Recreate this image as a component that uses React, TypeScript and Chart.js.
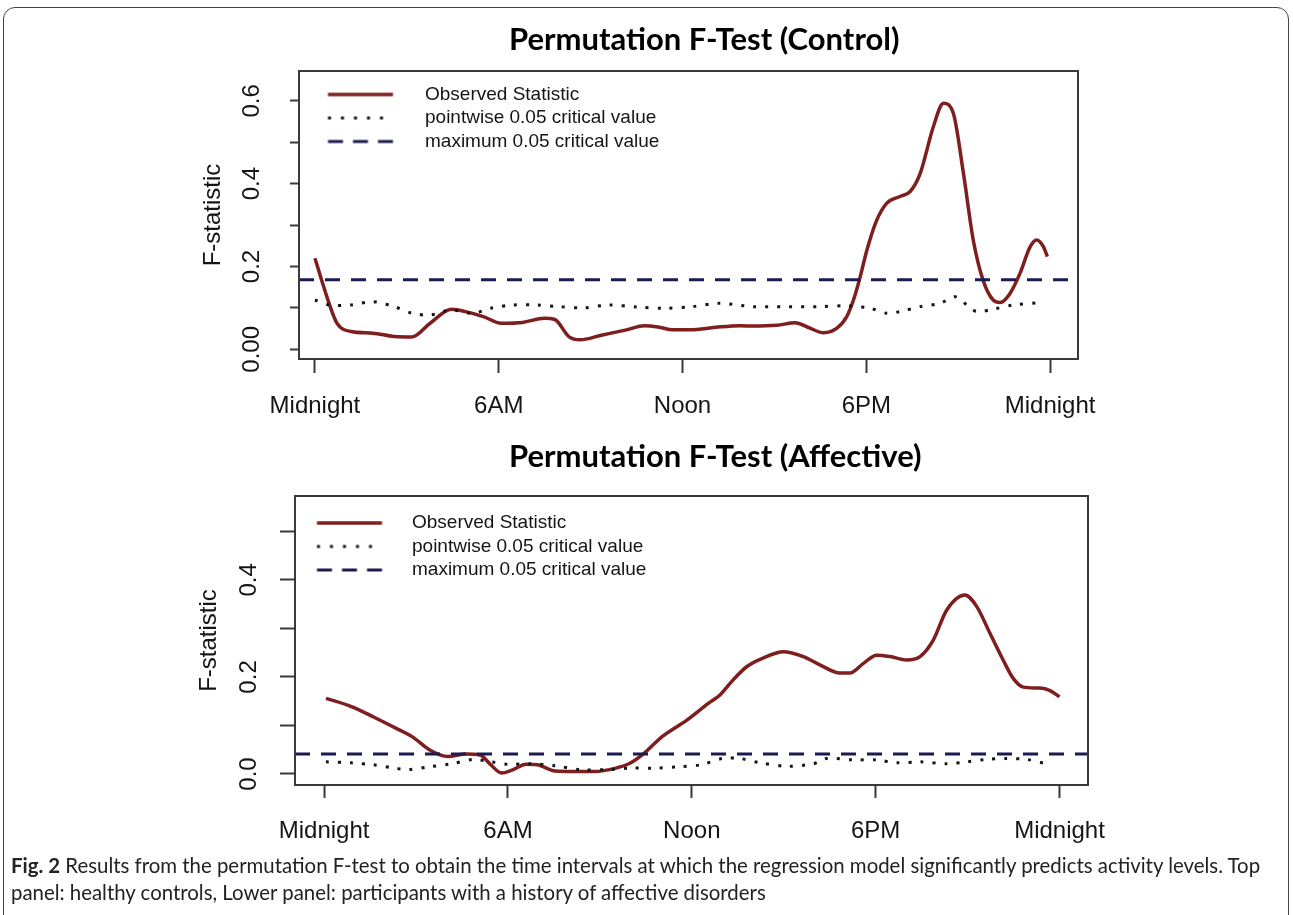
import React, { useEffect, useRef } from "react";
import { Chart, registerables } from "chart.js";

Chart.register(...registerables);

// ---------- shared axis text ----------
const hourTicks = [0, 6, 12, 18, 24];
const hourTickLabels = ["Midnight", "6AM", "Noon", "6PM", "Midnight"];
const legendLabels = [
  "Observed Statistic",
  "pointwise 0.05 critical value",
  "maximum 0.05 critical value",
];
const yAxisTitle = "F-statistic";

// ---------- top panel: healthy controls ----------
const controlTitle = "Permutation F-Test (Control)";
const controlYTicks = [0, 0.1, 0.2, 0.3, 0.4, 0.5, 0.6];
const controlYTickLabels = ["0.00", "", "0.2", "", "0.4", "", "0.6"];
const controlObservedHours = [
  0, 0.22, 0.42, 0.72, 1.18, 1.89, 2.59, 3.17, 3.76, 4.46, 4.92, 5.5, 6.08,
  6.78, 7.48, 7.83, 8.3, 8.65, 9.35, 10.17, 10.75, 11.2, 11.68, 12.26, 13.08,
  13.88, 14.31, 15.08, 15.67, 16.16, 16.6, 17.04, 17.36, 17.58, 17.8, 18.02,
  18.34, 18.67, 19.1, 19.43, 19.76, 20.19, 20.52, 20.84, 21.17, 21.49, 21.81,
  22.14, 22.37, 22.69, 23.02, 23.35, 23.56, 23.78, 23.91,
];
const controlObservedValues = [
  0.22, 0.167, 0.12, 0.063, 0.043, 0.039, 0.031, 0.03, 0.063, 0.097, 0.091,
  0.079, 0.063, 0.065, 0.075, 0.072, 0.03, 0.023, 0.034, 0.047, 0.057, 0.054,
  0.047, 0.047, 0.053, 0.057, 0.056, 0.058, 0.064, 0.051, 0.04, 0.051, 0.079,
  0.119, 0.175, 0.24, 0.312, 0.353, 0.369, 0.381, 0.425, 0.538, 0.594, 0.57,
  0.425, 0.264, 0.167, 0.119, 0.113, 0.135, 0.184, 0.248, 0.264, 0.248, 0.224,
];
const controlPointwiseHours = [
  0, 0.49, 1.18, 1.89, 2.59, 3.17, 3.76, 4.46, 5.16, 5.74, 6.44, 7.25, 7.95,
  8.77, 9.58, 10.52, 11.45, 12.3, 13.2, 14.31, 15.4, 16.49, 17.36, 18.13,
  18.67, 19.1, 19.76, 20.41, 20.9, 21.28, 21.6, 22.14, 22.8, 23.67,
];
const controlPointwiseValues = [
  0.119, 0.107, 0.107, 0.115, 0.103, 0.087, 0.083, 0.095, 0.087, 0.099, 0.107,
  0.107, 0.103, 0.1, 0.107, 0.102, 0.099, 0.103, 0.111, 0.103, 0.103, 0.103,
  0.105, 0.099, 0.087, 0.091, 0.103, 0.111, 0.127, 0.107, 0.091, 0.097, 0.107,
  0.113,
];
const controlMaximumCritical = [0.168];

// ---------- lower panel: affective disorders ----------
const affectiveTitle = "Permutation F-Test (Affective)";
const affectiveYTicks = [0, 0.1, 0.2, 0.3, 0.4, 0.5];
const affectiveYTickLabels = ["0.0", "", "0.2", "", "0.4", ""];
const affectiveObservedHours = [
  0.06, 0.89, 1.6, 2.29, 2.87, 3.46, 4.04, 4.62, 5.09, 5.44, 5.79, 6.13, 6.6,
  6.95, 7.54, 8.12, 8.82, 9.52, 9.98, 10.45, 11.03, 11.84, 12.55, 12.92, 13.35,
  13.79, 14.33, 14.99, 15.64, 16.18, 16.84, 17.16, 17.6, 18.03, 18.47, 19.01,
  19.45, 19.88, 20.32, 20.91, 21.3, 21.73, 22.16, 22.49, 22.82, 23.36, 23.69,
  24.0,
];
const affectiveObservedValues = [
  0.156, 0.139, 0.118, 0.096, 0.077, 0.049, 0.036, 0.041, 0.039, 0.019, 0.002,
  0.008, 0.02, 0.019, 0.006, 0.005, 0.005, 0.012, 0.022, 0.043, 0.077, 0.111,
  0.146, 0.163, 0.194, 0.221, 0.239, 0.252, 0.242, 0.225, 0.208, 0.208, 0.228,
  0.245, 0.242, 0.235, 0.242, 0.276, 0.338, 0.369, 0.345, 0.29, 0.235, 0.197,
  0.179, 0.177, 0.172, 0.159,
];
const affectivePointwiseHours = [
  0.06, 0.89, 1.6, 2.29, 2.76, 3.46, 4.16, 4.86, 5.44, 6.0, 6.7, 7.54, 8.35,
  9.28, 9.98, 10.8, 11.6, 12.3, 13.0, 13.57, 14.22, 15.1, 15.97, 16.4, 17.27,
  18.03, 18.69, 19.45, 20.32, 20.97, 21.62, 22.27, 22.93, 23.58,
];
const affectivePointwiseValues = [
  0.025, 0.023, 0.019, 0.012, 0.009, 0.015, 0.021, 0.03, 0.025, 0.02, 0.021,
  0.017, 0.009, 0.009, 0.012, 0.012, 0.015, 0.019, 0.032, 0.032, 0.023, 0.016,
  0.021, 0.032, 0.029, 0.029, 0.023, 0.025, 0.021, 0.025, 0.03, 0.032, 0.03,
  0.021,
];
const affectiveMaximumCritical = [0.041];

// ---------- styling ----------
const AXIS_FONT = "'Liberation Sans', Arial, Helvetica, sans-serif";
const TITLE_FONT = "Lato, 'Open Sans', sans-serif";
const RED = "#7e1e1e";
const NAVY = "#1b1b52";
const INK = "#151515";
const FRAME = "#3a3a3a";

type PanelLayout = {
  top: number;
  height: number;
  plotLeft: number;
  plotRight: number;
  plotTop: number;
  plotBottom: number;
  xMin: number;
  xMax: number;
  yMin: number;
  yMax: number;
  xTickLen: number;
  yTickLen: number;
  xLabelPad: number;
  yLabelPad: number;
  titleX: number;
  titleBaseline: number;
  legendLineStart: number;
  legendTextX: number;
  legendFirstRow: number;
};

type PanelData = {
  title: string;
  yTicks: number[];
  yTickLabels: string[];
  obsHours: number[];
  obsValues: number[];
  pwHours: number[];
  pwValues: number[];
  maxCrit: number[];
};

const Y_AXIS_W = 100;
const X_AXIS_H = 60;
const LEGEND_FONT = 19;
const LEGEND_ROW_GAP = 4.5;
const LEGEND_PAD = 4.5;
const LEGEND_LINE = 65;

function legendImage(kind: "solid" | "dot" | "dash", width: number, offset: number) {
  const c = document.createElement("canvas");
  c.width = Math.max(1, Math.round(width));
  c.height = 8;
  const g = c.getContext("2d")!;
  g.lineWidth = kind === "solid" ? 3.5 : 3;
  g.strokeStyle = kind === "solid" ? RED : kind === "dot" ? INK : NAVY;
  if (kind === "dot") g.setLineDash([3, 10]);
  if (kind === "dash") g.setLineDash([15, 10]);
  g.beginPath();
  g.moveTo(offset, 4);
  g.lineTo(offset + LEGEND_LINE, 4);
  g.stroke();
  return c;
}

function Panel({ layout, data }: { layout: PanelLayout; data: PanelData }) {
  const ref = useRef<HTMLCanvasElement | null>(null);
  useEffect(() => {
    const canvas = ref.current;
    if (!canvas) return;
    const L = layout;
    const itemX = L.plotLeft + LEGEND_PAD;
    const boxW = L.legendTextX - LEGEND_FONT / 2 - itemX;
    const imgOffset = L.legendLineStart - itemX;
    // vertical legend placed in the chart area starts from the canvas top
    const firstRowTop = L.legendFirstRow - LEGEND_FONT / 2 - L.top;
    const legendTitleGap = firstRowTop - LEGEND_PAD - 1.2;

    const framePlugin = {
      id: "frameBox",
      afterDatasetsDraw(chart: any) {
        const { ctx, chartArea: a } = chart;
        ctx.save();
        ctx.strokeStyle = FRAME;
        ctx.lineWidth = 2;
        ctx.strokeRect(a.left, a.top, a.right - a.left, a.bottom - a.top);
        ctx.restore();
      },
    };
    const titlePlugin = {
      id: "panelTitle",
      afterDraw(chart: any) {
        const ctx = chart.ctx;
        ctx.save();
        ctx.font = `bold 31px ${TITLE_FONT}`;
        ctx.fillStyle = "#000";
        ctx.textAlign = "left";
        ctx.textBaseline = "alphabetic";
        ctx.fillText(data.title, L.titleX, L.titleBaseline - L.top);
        ctx.restore();
      },
    };

    const tickFont = { family: AXIS_FONT, size: 24 };
    const chart = new Chart(canvas, {
      type: "line",
      data: {
        datasets: [
          {
            label: legendLabels[2],
            data: [
              { x: L.xMin, y: data.maxCrit[0] },
              { x: L.xMax, y: data.maxCrit[0] },
            ],
            borderColor: NAVY,
            borderWidth: 3,
            borderDash: [15, 11],
            pointRadius: 0,
            pointStyle: legendImage("dash", boxW, imgOffset),
            tension: 0,
          },
          {
            label: legendLabels[1],
            data: data.pwHours.map((h, i) => ({ x: h, y: data.pwValues[i] })),
            borderColor: INK,
            borderWidth: 3,
            borderDash: [3, 9],
            pointRadius: 0,
            pointStyle: legendImage("dot", boxW, imgOffset),
            tension: 0.3,
          },
          {
            label: legendLabels[0],
            data: data.obsHours.map((h, i) => ({ x: h, y: data.obsValues[i] })),
            borderColor: RED,
            borderWidth: 3.5,
            pointRadius: 0,
            pointStyle: legendImage("solid", boxW, imgOffset),
            cubicInterpolationMode: "monotone",
          },
        ],
      },
      options: {
        responsive: false,
        animation: false,
        devicePixelRatio: 1,
        events: [],
        layout: {
          padding: {
            left: L.plotLeft - Y_AXIS_W,
            right: 1293 - L.plotRight,
            top: L.plotTop - L.top,
            bottom: L.height - (L.plotBottom - L.top) - X_AXIS_H,
          },
        },
        plugins: {
          title: { display: false },
          tooltip: { enabled: false },
          legend: {
            display: true,
            position: "chartArea",
            align: "start",
            reverse: true,
            title: {
              display: true,
              text: " ",
              font: { size: 1, lineHeight: 1.2 },
              padding: { top: legendTitleGap, bottom: 0 },
            },
            labels: {
              usePointStyle: true,
              pointStyleWidth: boxW,
              boxHeight: LEGEND_FONT,
              padding: LEGEND_ROW_GAP,
              color: INK,
              font: { family: AXIS_FONT, size: LEGEND_FONT },
            },
          },
        },
        scales: {
          x: {
            type: "linear",
            min: L.xMin,
            max: L.xMax,
            afterBuildTicks: (s: any) => {
              s.ticks = hourTicks.map((v) => ({ value: v }));
            },
            afterFit: (s: any) => {
              s.height = X_AXIS_H;
            },
            ticks: {
              autoSkip: false,
              minRotation: 0,
              maxRotation: 0,
              padding: L.xLabelPad,
              color: INK,
              font: tickFont,
              callback: (_v: any, i: number) => hourTickLabels[i],
            },
            grid: {
              display: true,
              drawOnChartArea: false,
              drawTicks: true,
              tickLength: L.xTickLen,
              tickWidth: 2,
              tickColor: FRAME,
            },
            border: { display: false },
          },
          y: {
            type: "linear",
            min: L.yMin,
            max: L.yMax,
            afterBuildTicks: (s: any) => {
              s.ticks = data.yTicks.map((v) => ({ value: v }));
            },
            afterFit: (s: any) => {
              s.width = Y_AXIS_W;
            },
            ticks: {
              autoSkip: false,
              minRotation: 90,
              maxRotation: 90,
              crossAlign: "center",
              padding: L.yLabelPad,
              color: INK,
              font: tickFont,
              callback: (_v: any, i: number) => data.yTickLabels[i],
            },
            grid: {
              display: true,
              drawOnChartArea: false,
              drawTicks: true,
              tickLength: L.yTickLen,
              tickWidth: 2,
              tickColor: FRAME,
            },
            border: { display: false },
            title: {
              display: true,
              text: yAxisTitle,
              color: INK,
              font: { family: AXIS_FONT, size: 24 },
              padding: { top: 0, bottom: 0 },
            },
          },
        },
      },
      plugins: [framePlugin, titlePlugin],
    } as any);
    return () => chart.destroy();
  }, [layout, data]);

  return (
    <canvas
      ref={ref}
      width={1293}
      height={layout.height}
      style={{
        position: "absolute",
        left: 0,
        top: layout.top,
        width: 1293,
        height: layout.height,
        display: "block",
      }}
    />
  );
}

const controlLayout: PanelLayout = {
  top: 0,
  height: 430,
  plotLeft: 299,
  plotRight: 1078,
  plotTop: 71,
  plotBottom: 359,
  xMin: -0.52,
  xMax: 24.91,
  yMin: -0.0234,
  yMax: 0.672,
  xTickLen: 14,
  yTickLen: 9,
  xLabelPad: 18.5,
  yLabelPad: 14.5,
  titleX: 509,
  titleBaseline: 50,
  legendLineStart: 328,
  legendTextX: 425,
  legendFirstRow: 94.5,
};

const affectiveLayout: PanelLayout = {
  top: 430,
  height: 430,
  plotLeft: 295,
  plotRight: 1088,
  plotTop: 496,
  plotBottom: 785,
  xMin: -0.95,
  xMax: 24.93,
  yMin: -0.0227,
  yMax: 0.573,
  xTickLen: 13,
  yTickLen: 15,
  xLabelPad: 19,
  yLabelPad: 13.5,
  titleX: 509,
  titleBaseline: 467,
  legendLineStart: 317,
  legendTextX: 412,
  legendFirstRow: 523,
};

const controlData: PanelData = {
  title: controlTitle,
  yTicks: controlYTicks,
  yTickLabels: controlYTickLabels,
  obsHours: controlObservedHours,
  obsValues: controlObservedValues,
  pwHours: controlPointwiseHours,
  pwValues: controlPointwiseValues,
  maxCrit: controlMaximumCritical,
};

const affectiveData: PanelData = {
  title: affectiveTitle,
  yTicks: affectiveYTicks,
  yTickLabels: affectiveYTickLabels,
  obsHours: affectiveObservedHours,
  obsValues: affectiveObservedValues,
  pwHours: affectivePointwiseHours,
  pwValues: affectivePointwiseValues,
  maxCrit: affectiveMaximumCritical,
};

export default function App() {
  return (
    <div
      style={{
        position: "absolute",
        left: 0,
        top: 0,
        width: 1293,
        height: 915,
        overflow: "hidden",
        background: "#fff",
      }}
    >
      <div
        style={{
          position: "absolute",
          left: 3,
          top: 7,
          width: 1284,
          height: 1000,
          border: "1.5px solid #444",
          borderRadius: 12,
        }}
      />
      <Panel layout={controlLayout} data={controlData} />
      <Panel layout={affectiveLayout} data={affectiveData} />
      <div
        style={{
          position: "absolute",
          left: 11,
          top: 852,
          width: 1275,
          fontFamily: "Lato, 'Open Sans', sans-serif",
          fontSize: 20.4,
          lineHeight: "27px",
          color: "#222",
          whiteSpace: "nowrap",
        }}
      >
        <b>Fig. 2</b> Results from the permutation F-test to obtain the time
        intervals at which the regression model significantly predicts activity
        levels. Top
        <br />
        panel: healthy controls, Lower panel: participants with a history of
        affective disorders
      </div>
    </div>
  );
}
